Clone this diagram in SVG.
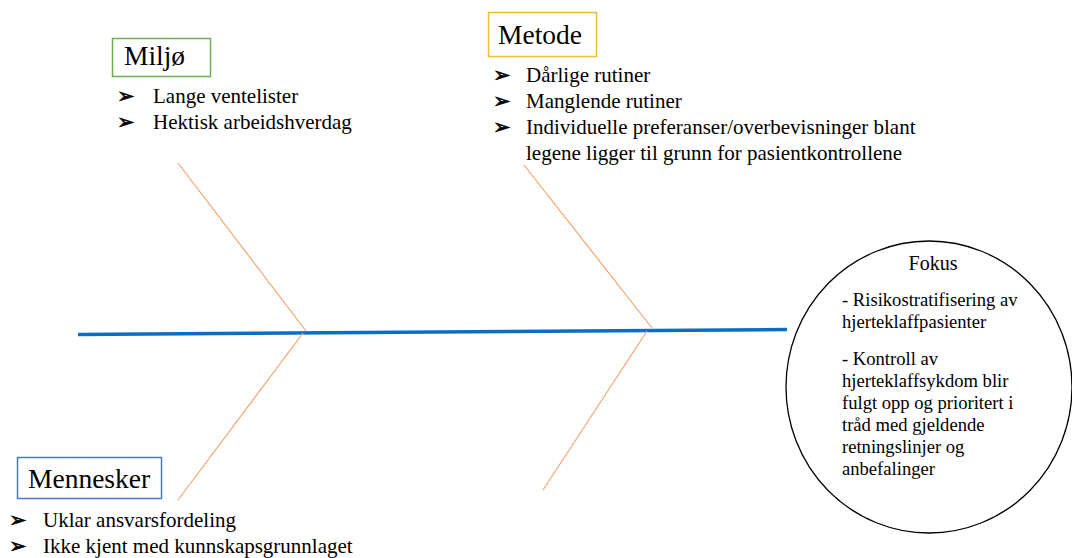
<svg xmlns="http://www.w3.org/2000/svg" width="1072" height="558" viewBox="0 0 1072 558">
<style>
.t{font-family:"Liberation Serif","Times New Roman",serif;fill:#000}
.h{font-size:27.5px}
.b{font-size:21px}
.c{font-size:18.6px}
.bu{font-family:"DejaVu Sans",sans-serif;font-size:21px;fill:#000;stroke:#000;stroke-width:0.6}
.bone{stroke:#f4a46f;stroke-width:1.2;fill:none}
</style>
<rect width="1072" height="558" fill="#fff"/>
<g id="connectors">
<line x1="78" y1="334.5" x2="787" y2="329.5" stroke="#0a6fc2" stroke-width="3.5"/>
<line class="bone" x1="178" y1="163" x2="306" y2="331"/>
<line class="bone" x1="303" y1="333" x2="178" y2="500"/>
<line class="bone" x1="524" y1="165" x2="652" y2="328"/>
<line class="bone" x1="647" y1="331" x2="543" y2="490"/>
</g>
<g id="miljo">
<rect x="112.5" y="38.5" width="98" height="38" fill="none" stroke="#6ab04c" stroke-width="1.5"/>
<text class="t h" x="124" y="65">Miljø</text>
<text class="bu" x="117" y="103">➢</text>
<text class="t b" x="153" y="103">Lange ventelister</text>
<text class="bu" x="117" y="129">➢</text>
<text class="t b" x="153" y="129">Hektisk arbeidshverdag</text>
</g>
<g id="metode">
<rect x="488.5" y="12.5" width="108" height="44" fill="none" stroke="#f5b83c" stroke-width="1.5"/>
<text class="t h" x="498" y="44">Metode</text>
<text class="bu" x="493" y="82">➢</text>
<text class="t b" x="526" y="82">Dårlige rutiner</text>
<text class="bu" x="493" y="108">➢</text>
<text class="t b" x="526" y="108">Manglende rutiner</text>
<text class="bu" x="493" y="134">➢</text>
<text class="t b" x="526" y="134">Individuelle preferanser/overbevisninger blant</text>
<text class="t b" x="526" y="160">legene ligger til grunn for pasientkontrollene</text>
</g>
<g id="mennesker">
<rect x="17.5" y="457.5" width="144" height="41" fill="none" stroke="#4a78c8" stroke-width="1.5"/>
<text class="t h" x="28" y="488">Mennesker</text>
<text class="bu" x="9" y="527">➢</text>
<text class="t b" x="43" y="527">Uklar ansvarsfordeling</text>
<text class="bu" x="9" y="553">➢</text>
<text class="t b" x="43" y="553">Ikke kjent med kunnskapsgrunnlaget</text>
</g>
<g id="fokus">
<ellipse cx="929" cy="387" rx="143" ry="146" fill="#fff" stroke="#000" stroke-width="1.3"/>
<text class="t" x="933" y="270" font-size="20" text-anchor="middle">Fokus</text>
<text class="t c" x="842" y="306">- Risikostratifisering av</text>
<text class="t c" x="842" y="328">hjerteklaffpasienter</text>
<text class="t c" x="842" y="365">- Kontroll av</text>
<text class="t c" x="842" y="387">hjerteklaffsykdom blir</text>
<text class="t c" x="842" y="409">fulgt opp og prioritert i</text>
<text class="t c" x="842" y="431">tråd med gjeldende</text>
<text class="t c" x="842" y="453">retningslinjer og</text>
<text class="t c" x="842" y="475">anbefalinger</text>
</g>
</svg>
